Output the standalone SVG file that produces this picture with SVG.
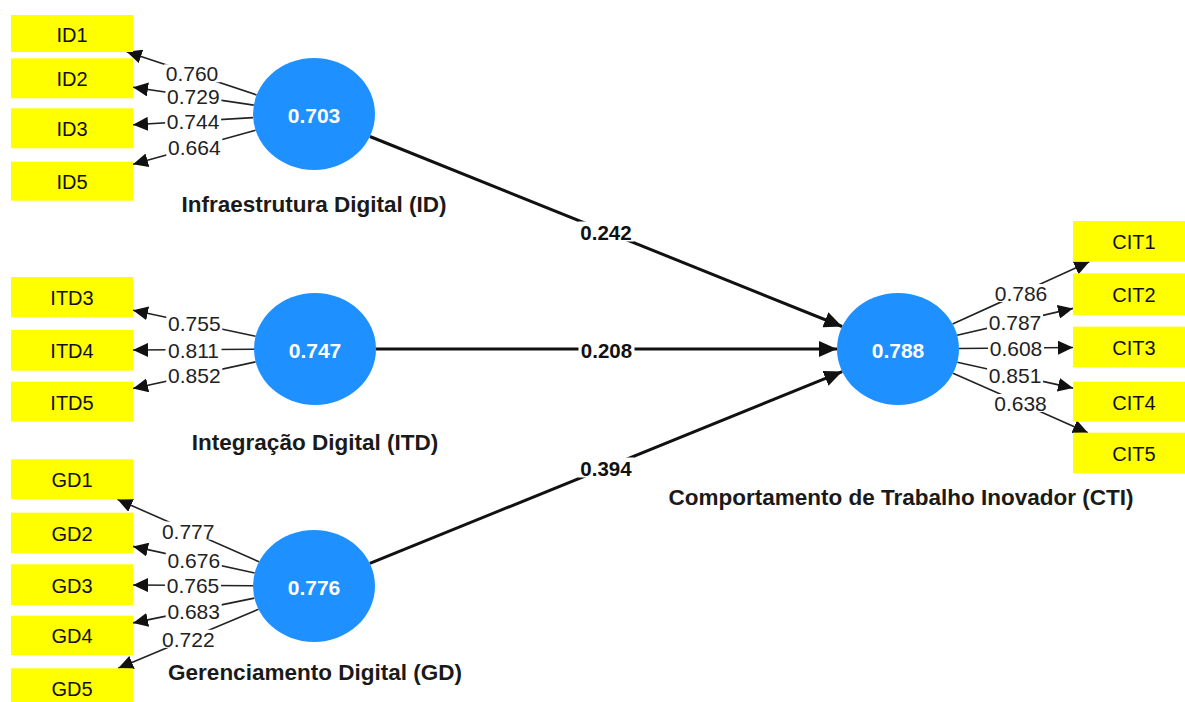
<svg xmlns="http://www.w3.org/2000/svg" width="1185" height="702" viewBox="0 0 1185 702">
<style>
.box{fill:#FFFF00;}
.btxt{font-family:"Liberation Sans",Arial,sans-serif;font-size:20px;fill:#111;text-anchor:middle;}
.lv{fill:#1E90FF;}
.ltxt{font-family:"Liberation Sans",Arial,sans-serif;font-size:21px;font-weight:bold;fill:#fff;text-anchor:middle;}
.name{font-family:"Liberation Sans",Arial,sans-serif;font-size:22.5px;font-weight:bold;fill:#1a1a1a;text-anchor:middle;}
.ol{stroke:#222;stroke-width:1.6;fill:none;marker-end:url(#ah);}
.il{stroke:#111;stroke-width:3;fill:none;marker-end:url(#ahb);}
.bg{fill:#fff;}
.ot{font-family:"Liberation Sans",Arial,sans-serif;font-size:21px;fill:#222;text-anchor:middle;}
.it{font-family:"Liberation Sans",Arial,sans-serif;font-size:20.5px;font-weight:bold;fill:#111;text-anchor:middle;}
</style>
<defs>
<marker id="ah" markerUnits="userSpaceOnUse" markerWidth="16" markerHeight="14" refX="15" refY="7" orient="auto"><path d="M0,0 L15,7 L0,14 Z" fill="#111"/></marker>
<marker id="ahb" markerUnits="userSpaceOnUse" markerWidth="19" markerHeight="16" refX="18" refY="8" orient="auto"><path d="M0,0 L18,8 L0,16 Z" fill="#111"/></marker>
</defs>
<rect width="1185" height="702" fill="#fff"/>

<g id="connectors">
<line class="ol" x1="256.6" y1="94.9" x2="126.7" y2="51.7"/>
<line class="ol" x1="253.8" y1="105.1" x2="133" y2="87.3"/>
<line class="ol" x1="253.1" y1="117.6" x2="133" y2="124.7"/>
<line class="ol" x1="255.6" y1="130.2" x2="133" y2="164.3"/>
<line class="ol" x1="255.6" y1="336.3" x2="133" y2="310.2"/>
<line class="ol" x1="254" y1="349.3" x2="133" y2="350"/>
<line class="ol" x1="255.6" y1="361.9" x2="133" y2="388.5"/>
<line class="ol" x1="259" y1="561.8" x2="117.4" y2="499.3"/>
<line class="ol" x1="254.7" y1="573" x2="133" y2="546.4"/>
<line class="ol" x1="253" y1="585.7" x2="133" y2="585"/>
<line class="ol" x1="254.4" y1="598.1" x2="133" y2="622.9"/>
<line class="ol" x1="258.5" y1="609.3" x2="118.2" y2="668.3"/>
<line class="ol" x1="952.6" y1="324.1" x2="1089.3" y2="261.7"/>
<line class="ol" x1="957.1" y1="335.3" x2="1073" y2="308.4"/>
<line class="ol" x1="959" y1="348.5" x2="1073" y2="347.5"/>
<line class="ol" x1="957.3" y1="362.2" x2="1073" y2="388.1"/>
<line class="ol" x1="953" y1="373.2" x2="1087.9" y2="432.7"/>
<line class="il" x1="369.9" y1="136.5" x2="842.1" y2="326.5"/>
<line class="il" x1="376" y1="349" x2="837" y2="349"/>
<line class="il" x1="369.8" y1="563.4" x2="842.2" y2="371.6"/>
<g id="loadings">
<rect class="bg" x="164" y="64.3" width="56" height="18"/><text class="ot" x="192" y="81.3">0.760</text>
<rect class="bg" x="165.4" y="87.2" width="56" height="18"/><text class="ot" x="193.4" y="104.2">0.729</text>
<rect class="bg" x="165.1" y="112.2" width="56" height="18"/><text class="ot" x="193.1" y="129.2">0.744</text>
<rect class="bg" x="166.3" y="138.2" width="56" height="18"/><text class="ot" x="194.3" y="155.2">0.664</text>
<rect class="bg" x="166.3" y="314.3" width="56" height="18"/><text class="ot" x="194.3" y="331.3">0.755</text>
<rect class="bg" x="165.5" y="340.7" width="56" height="18"/><text class="ot" x="193.5" y="357.7">0.811</text>
<rect class="bg" x="166.3" y="366.2" width="56" height="18"/><text class="ot" x="194.3" y="383.2">0.852</text>
<rect class="bg" x="160.2" y="521.5" width="56" height="18"/><text class="ot" x="188.2" y="538.5">0.777</text>
<rect class="bg" x="165.8" y="550.7" width="56" height="18"/><text class="ot" x="193.8" y="567.7">0.676</text>
<rect class="bg" x="165" y="576.4" width="56" height="18"/><text class="ot" x="193" y="593.4">0.765</text>
<rect class="bg" x="165.7" y="601.5" width="56" height="18"/><text class="ot" x="193.7" y="618.5">0.683</text>
<rect class="bg" x="160.4" y="629.8" width="56" height="18"/><text class="ot" x="188.4" y="646.8">0.722</text>
<rect class="bg" x="993" y="284" width="56" height="18"/><text class="ot" x="1021" y="301">0.786</text>
<rect class="bg" x="987" y="312.8" width="56" height="18"/><text class="ot" x="1015" y="329.8">0.787</text>
<rect class="bg" x="988" y="339" width="56" height="18"/><text class="ot" x="1016" y="356">0.608</text>
<rect class="bg" x="987.1" y="366.2" width="56" height="18"/><text class="ot" x="1015.1" y="383.2">0.851</text>
<rect class="bg" x="992.5" y="394" width="56" height="18"/><text class="ot" x="1020.5" y="411">0.638</text>
</g>
<g id="paths">
<rect class="bg" x="578" y="221.5" width="56" height="20"/><text class="it" x="606" y="240">0.242</text>
<rect class="bg" x="578.5" y="339" width="56" height="20"/><text class="it" x="606.5" y="357.5">0.208</text>
<rect class="bg" x="578" y="457.5" width="56" height="20"/><text class="it" x="606" y="476">0.394</text>
</g>
</g>

<g id="ID1"><rect class="box" x="11" y="15" width="122" height="37"/><text class="btxt" x="72" y="41.5">ID1</text></g>
<g id="ID2"><rect class="box" x="11" y="58.3" width="122" height="40"/><text class="btxt" x="72" y="86.3">ID2</text></g>
<g id="ID3"><rect class="box" x="11" y="108.3" width="122" height="40"/><text class="btxt" x="72" y="136.3">ID3</text></g>
<g id="ID5"><rect class="box" x="11" y="161.7" width="122" height="39"/><text class="btxt" x="72" y="189.2">ID5</text></g>
<g id="ITD3"><rect class="box" x="11" y="277" width="122" height="40.3"/><text class="btxt" x="72" y="305.2">ITD3</text></g>
<g id="ITD4"><rect class="box" x="11" y="330" width="122" height="40.7"/><text class="btxt" x="72" y="358.3">ITD4</text></g>
<g id="ITD5"><rect class="box" x="11" y="381.7" width="122" height="40"/><text class="btxt" x="72" y="409.7">ITD5</text></g>
<g id="GD1"><rect class="box" x="11" y="459.3" width="122" height="40"/><text class="btxt" x="72" y="487.3">GD1</text></g>
<g id="GD2"><rect class="box" x="11" y="512.7" width="122" height="40.6"/><text class="btxt" x="72" y="541">GD2</text></g>
<g id="GD3"><rect class="box" x="11" y="564.3" width="122" height="40.7"/><text class="btxt" x="72" y="592.7">GD3</text></g>
<g id="GD4"><rect class="box" x="11" y="615.7" width="122" height="39.3"/><text class="btxt" x="72" y="643.3">GD4</text></g>
<g id="GD5"><rect class="box" x="11" y="668.3" width="122" height="39"/><text class="btxt" x="72" y="695.7">GD5</text></g>
<g id="CIT1"><rect class="box" x="1073" y="221" width="122" height="40.7"/><text class="btxt" x="1134" y="249.3">CIT1</text></g>
<g id="CIT2"><rect class="box" x="1073" y="273.3" width="122" height="41.7"/><text class="btxt" x="1134" y="302.2">CIT2</text></g>
<g id="CIT3"><rect class="box" x="1073" y="326.7" width="122" height="40.6"/><text class="btxt" x="1134" y="355">CIT3</text></g>
<g id="CIT4"><rect class="box" x="1073" y="381.7" width="122" height="40"/><text class="btxt" x="1134" y="409.7">CIT4</text></g>
<g id="CIT5"><rect class="box" x="1073" y="432.7" width="122" height="40.6"/><text class="btxt" x="1134" y="461">CIT5</text></g>

<g id="ID"><ellipse class="lv" cx="314" cy="114" rx="61" ry="56"/><text class="ltxt" x="314" y="122.5">0.703</text><text class="name" x="314" y="212">Infraestrutura Digital (ID)</text></g>
<g id="ITD"><ellipse class="lv" cx="315" cy="349" rx="61" ry="56"/><text class="ltxt" x="315" y="357.5">0.747</text><text class="name" x="315" y="450">Integração Digital (ITD)</text></g>
<g id="GD"><ellipse class="lv" cx="314" cy="586" rx="61" ry="56"/><text class="ltxt" x="314" y="594.5">0.776</text><text class="name" x="315" y="680">Gerenciamento Digital (GD)</text></g>
<g id="CTI"><ellipse class="lv" cx="898" cy="349" rx="61" ry="56"/><text class="ltxt" x="898" y="357.5">0.788</text><text class="name" x="901" y="505">Comportamento de Trabalho Inovador (CTI)</text></g>
</svg>
